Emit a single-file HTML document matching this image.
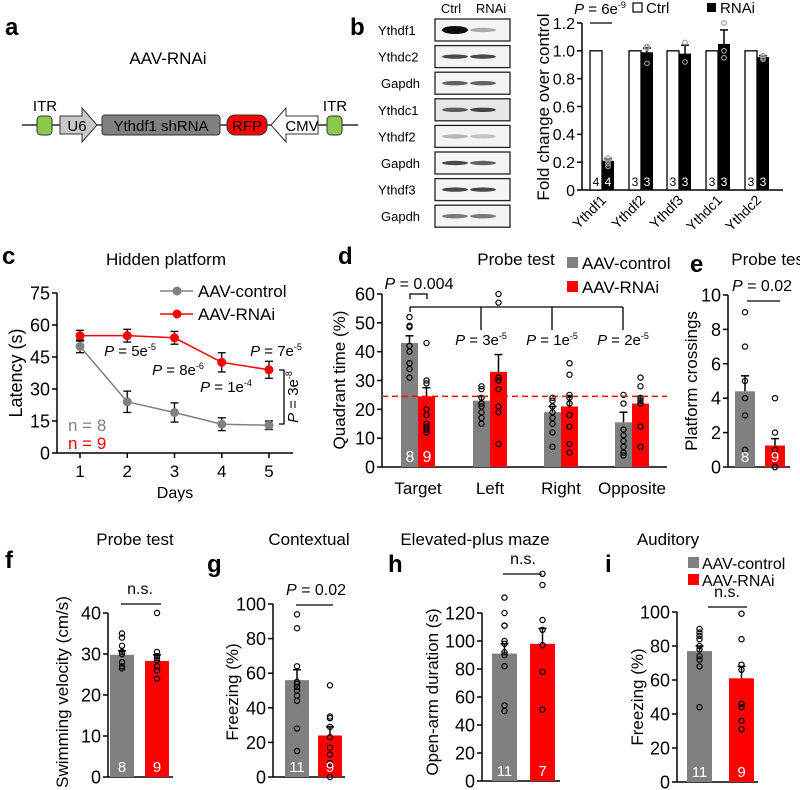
<!DOCTYPE html>
<html><head><meta charset="utf-8"><style>
html,body{margin:0;padding:0;background:#fff}
svg{display:block;font-family:"Liberation Sans",Arial,sans-serif}
</style></head><body>
<svg id="fig" width="800" height="790" viewBox="0 0 800 790" xmlns="http://www.w3.org/2000/svg"></svg>
<script>
// ---------- data ----------
const bGenes=["Ythdf1","Ythdf2","Ythdf3","Ythdc1","Ythdc2"];
const bCtrl=[1,1,1,1,1];
const bRnai=[0.21,0.99,0.98,1.05,0.955];
const bErr=[0.015,0.03,0.06,0.1,0.01];
const bPts=[[0.23,0.21,0.19,0.17],[1.03,1.02,0.91],[1.06,0.92],[1.2,1.0,0.95],[0.965,0.95,0.94]];
const bN=[[4,4],[3,3],[3,3],[3,3],[3,3]];
const bTicks=[0,0.2,0.4,0.6,0.8,1.0,1.2];

const cDays=[1,2,3,4,5];
const cCtrl=[50,24,19,13.5,13];
const cCtrlErr=[3,5,4.5,3,2];
const cRnai=[55,55,54,42.5,39];
const cRnaiErr=[2.5,3,3,4.5,4];
const cTicks=[0,15,30,45,60,75];

const dCats=["Target","Left","Right","Opposite"];
const dCtrl=[43,23,19,15.5];
const dCtrlErr=[2.5,1.5,2,3.5];
const dRnai=[24.5,33,21,22];
const dRnaiErr=[3,6,3.5,2.5];
const dCtrlPts=[[52,49,48.5,42,40,36,34,31],[28,27,24,22,21,19,17,15],[24,23,21,19,17,15,12,7],[25,22,13,11,9,7,5,4]];
const dRnaiPts=[[43,30,29,20,18,15,14,13,12],[60,57,31,30,27,21,19,8],[36,32,25,24,22,18,14,8,5],[31,28,24,23,22,14,7]];
const dTicks=[0,10,20,30,40,50,60];

const eMeans=[4.4,1.25];const eErrs=[0.9,0.4];
const ePts=[[9,7,5,4,3,1,1],[4,2,1,0,0]];const eN=[8,9];const eTicks=[0,2,4,6,8,10];
const fMeans=[29.8,28.3];const fErrs=[1,1.5];
const fPts=[[35,34,32,30.5,30,28,27,26.5],[40,30.5,29.5,29,28.5,27,26,24]];const fN=[8,9];const fTicks=[0,10,20,30,40];
const gMeans=[56,24];const gErrs=[6,5];
const gPts=[[94,86,64,55,54,52,50,47,44,28,15],[53,35,34,29,23,17,13,8,0]];const gN=[11,9];const gTicks=[0,20,40,60,80,100];
const hMeans=[91,98];const hErrs=[7,11];
const hPts=[[131,120,111,111,100,98,92,90,82,54,50],[148,140,115,108,97,78,51]];const hN=[11,7];const hTicks=[0,20,40,60,80,100,120];
const iMeans=[77,61];const iErrs=[3,7];
const iPts=[[90,88,86,84,80,78,74,72,68,44],[99,84,69,66,46,44,36,31]];const iN=[11,9];const iTicks=[0,20,40,60,80,100];

// ---------- helpers ----------
const NS='http://www.w3.org/2000/svg';
const svg=document.getElementById('fig');
const GRAY='#808080',RED='#ff0000';
function mk(tag,attrs,parent){const e=document.createElementNS(NS,tag);for(const k in attrs)e.setAttribute(k,attrs[k]);(parent||svg).appendChild(e);return e;}
function tx(x,y,s,size,anchor,fill,parent,extra){const e=mk('text',Object.assign({x:x,y:y,'font-size':size,'text-anchor':anchor||'start',fill:fill||'#000'},extra||{}),parent);e.textContent=s;return e;}
function lin(d0,d1,r0,r1){return v=>r0+(v-d0)*(r1-r0)/(d1-d0);}
function grp(name){const g=mk('g',{});return g;}
function line(x1,y1,x2,y2,p,w,c){return mk('line',{x1:x1,y1:y1,x2:x2,y2:y2,stroke:c||'#000','stroke-width':w||1.3},p);}
function ptxt(x,y,val,exp,size,p,anchor){const t=mk('text',{x:x,y:y,'font-size':size,'text-anchor':anchor||'middle'},p);
 const a=document.createElementNS(NS,'tspan');a.setAttribute('font-style','italic');a.textContent='P';t.appendChild(a);
 const b=document.createElementNS(NS,'tspan');b.textContent=' = '+val;t.appendChild(b);
 if(exp){const c=document.createElementNS(NS,'tspan');c.setAttribute('font-size',size*0.6);c.setAttribute('dy',-size*0.4);c.textContent=exp;t.appendChild(c);}
 return t;}
function yAxis(p,x,y,ticks,size,xEnd){const ax=grp('y-axis');p.appendChild(ax);
 line(x,y(ticks[ticks.length-1]),x,y(ticks[0]),ax,1.5);
 ticks.forEach(t=>{line(x-5,y(t),x,y(t),ax,1.5);const l=tx(x-7,y(t)+size*0.36,String(t),size,'end','#000',ax);});
 if(xEnd){const xa=line(x,y(ticks[0]),xEnd,y(ticks[0]),p,1.5);}
 return ax;
}
function yTitle(p,x,y,s,size){const t=tx(x,y,s,size,'middle','#000',p,{transform:'rotate(-90 '+x+' '+y+')'});return t;}
function bar(p,x,w,y,v,err,fill,stroke,name){const y0=y(0);const r=mk('rect',{x:x,y:y(v),width:w,height:y0-y(v),fill:fill,stroke:stroke||'none','stroke-width':1.3},p);
 
 
 if(err){const cx=x+w/2;line(cx,y(v),cx,y(v+err),p,1.5);line(cx-4,y(v+err),cx+4,y(v+err),p,1.5);}
 return r;}
function dots(p,cx,y,vals,col,r){vals.forEach((v,i)=>{const c=mk('circle',{cx:cx,cy:y(v),r:r||2.6,fill:'none',stroke:col||'#000','stroke-width':1.2},p);
 
 });}
function label(x,y,s){const t=tx(x,y,s,24,'start','#000',svg,{'font-weight':'bold'});}

// ---------- panel a ----------
(function(){const p=grp('panel-a-construct');svg.appendChild(p);
label(5,35,'a');
tx(168,64,'AAV-RNAi',17,'middle','#000',p);
line(22,125,358,125,p,1.3);
[[37,'itr-left'],[327,'itr-right']].forEach(a=>{const r=mk('rect',{x:a[0],y:116,width:15,height:19,rx:4,fill:'#8cc84b',stroke:'#333','stroke-width':1},p);});
tx(45,111,'ITR',15,'middle','#000',p);tx(335,111,'ITR',15,'middle','#000',p);
const u6=mk('polygon',{points:'60,116 82,116 82,108 97,125 82,142 82,134 60,134',fill:'#c8c8c8',stroke:'#333','stroke-width':1},p);
tx(77,131,'U6',15,'middle','#000',p);
const sh=mk('rect',{x:102,y:115,width:118,height:20,rx:3,fill:GRAY,stroke:'#333','stroke-width':1},p);
tx(161,131,'Ythdf1 shRNA',15,'middle','#000',p);
const rfp=mk('rect',{x:227,y:115,width:40,height:20,rx:8,fill:RED,stroke:'#333','stroke-width':1},p);
tx(247,131,'RFP',15,'middle','#000',p);
const cmv=mk('polygon',{points:'318,116 286,116 286,108 271,125 286,142 286,134 318,134',fill:'#fff',stroke:'#333','stroke-width':1},p);
tx(302,131,'CMV',15,'middle','#000',p);
})();

// ---------- panel b blots ----------
(function(){const p=grp('panel-b-western-blots');svg.appendChild(p);
label(350,35,'b');
tx(451,13,'Ctrl',13,'middle','#000',p);tx(491,13,'RNAi',13,'middle','#000',p);
const names=["Ythdf1","Ythdc2","Gapdh","Ythdc1","Ythdf2","Gapdh","Ythdf3","Gapdh"];
const ints=[[0.95,0.3],[0.7,0.7],[0.6,0.6],[0.6,0.7],[0.25,0.2],[0.7,0.6],[0.7,0.7],[0.5,0.5]];
names.forEach((n,i)=>{const cy=30+i*26.6;
 tx(n==='Gapdh'?381:378,cy+5,n,13,'start','#000',p);
 const r=mk('rect',{x:435,y:cy-11,width:75,height:22,fill:i===3?'#e6e6e6':'#f4f4f4',stroke:'#222','stroke-width':1.3},p);
 [455,483].forEach((x,j)=>{mk('ellipse',{cx:x,cy:cy,rx:13,ry:i===0&&j===0?4:2.2,fill:'#000','fill-opacity':ints[i][j]},p);});
});})();

// ---------- panel b chart ----------
(function(){const p=grp('panel-b-fold-change-chart');svg.appendChild(p);
const y=lin(0,1.2,190,23);
const ax=yAxis(p,582,y,bTicks,16,783);
ax.querySelectorAll('text').forEach((t,i)=>{t.textContent=bTicks[i]===0?'0':bTicks[i].toFixed(1);});
yTitle(p,549,107,'Fold change over control',17);
const centers=[602,641,679,718,757];
bGenes.forEach((g,i)=>{const c=centers[i];
 bar(p,c-12,12,y,bCtrl[i],0,'#fff','#000','bar-ctrl-'+g);
 bar(p,c,12,y,bRnai[i],bErr[i],'#000',null,'bar-rnai-'+g);
 dots(p,c+6,y,bPts[i],'#999',2.3);
 tx(c-6,186,String(bN[i][0]),12,'middle','#000',p);tx(c+6,186,String(bN[i][1]),12,'middle','#fff',p);
 const l=tx(c+5,201,g,14,'end','#000',p,{transform:'rotate(-45 '+(c+5)+' 201)'});
});
ptxt(600,14,'6e','-9',15,p);
line(590,23,612,23,p,1.3);
const lg=grp('legend-b');p.appendChild(lg);
mk('rect',{x:633,y:3,width:9,height:9,fill:'#fff',stroke:'#000','stroke-width':1.2},lg);tx(646,13,'Ctrl',15,'start','#000',lg);
mk('rect',{x:707,y:3,width:9,height:9,fill:'#000'},lg);tx(720,13,'RNAi',15,'start','#000',lg);
})();

// ---------- panel c ----------
(function(){const p=grp('panel-c-hidden-platform');svg.appendChild(p);
label(2,264,'c');
tx(166,265,'Hidden platform',17,'middle','#000',p);
const y=lin(0,75,453,293);const x=lin(1,5,80,269);
yAxis(p,57,y,cTicks,18,293);
cDays.forEach(d=>{line(x(d),453,x(d),458,p,1.5);const l=tx(x(d),477,String(d),17,'middle','#000',p);});
const xt=tx(175,498,'Days',16,'middle','#000',p);
yTitle(p,22,373,'Latency (s)',18);
function series(vals,errs,col,name){const g=grp(name);p.appendChild(g);
 mk('polyline',{points:cDays.map((d,i)=>x(d)+','+y(vals[i])).join(' '),fill:'none',stroke:col,'stroke-width':1.5},g);
 cDays.forEach((d,i)=>{line(x(d),y(vals[i]-errs[i]),x(d),y(vals[i]+errs[i]),g,1.3);
  line(x(d)-4,y(vals[i]-errs[i]),x(d)+4,y(vals[i]-errs[i]),g,1.3);line(x(d)-4,y(vals[i]+errs[i]),x(d)+4,y(vals[i]+errs[i]),g,1.3);
  const c=mk('circle',{cx:x(d),cy:y(vals[i]),r:4.5,fill:col},g);
  
  });}
series(cCtrl,cCtrlErr,GRAY,'series-control');series(cRnai,cRnaiErr,RED,'series-rnai');
const lg=grp('legend-c');p.appendChild(lg);
line(160,291,193,291,lg,1.5,GRAY);mk('circle',{cx:177,cy:291,r:4.5,fill:GRAY},lg);tx(198,297,'AAV-control',17,'start','#000',lg);
line(160,314,193,314,lg,1.5,RED);mk('circle',{cx:177,cy:314,r:4.5,fill:RED},lg);tx(198,320,'AAV-RNAi',17,'start','#000',lg);
ptxt(130,356,'5e','-5',15,p);ptxt(178,375,'8e','-6',15,p);ptxt(226,392,'1e','-4',15,p);ptxt(276,356,'7e','-5',15,p);
mk('polyline',{points:'279,370 284,370 284,424 279,424',fill:'none',stroke:'#000','stroke-width':1.3},p);
const r=ptxt(0,0,'3e','-8',15,p,'middle');r.setAttribute('transform','translate(298,397) rotate(-90)');
tx(68,431,'n = 8',17,'start',GRAY,p);tx(68,449,'n = 9',17,'start',RED,p);
})();

// ---------- panel d ----------
(function(){const p=grp('panel-d-quadrant');svg.appendChild(p);
label(338,264,'d');
tx(516,265,'Probe test',17,'middle','#000',p);
const y=lin(0,60,467,294);
yAxis(p,382,y,dTicks,18,667);
yTitle(p,345,380,'Quadrant time (%)',17);
const centers=[418,490,561,632];
dCats.forEach((c,i)=>{const cx=centers[i];
 bar(p,cx-17,17,y,dCtrl[i],dCtrlErr[i],GRAY,null,'bar-control-'+c.toLowerCase());
 bar(p,cx,17,y,dRnai[i],dRnaiErr[i],RED,null,'bar-rnai-'+c.toLowerCase());
 dots(p,cx-8.5,y,dCtrlPts[i]);dots(p,cx+8.5,y,dRnaiPts[i]);
 const l=tx(cx,494,c,17,'middle','#000',p);});
tx(410,462,'8',16,'middle','#fff',p);tx(427,462,'9',16,'middle','#fff',p);
const dl=mk('line',{x1:382,y1:y(24.5),x2:667,y2:y(24.5),stroke:RED,'stroke-width':1.5,'stroke-dasharray':'6,4'},p);
ptxt(419,289,'0.004','',16,p);
mk('polyline',{points:'410,299 410,294 427,294 427,299',fill:'none',stroke:'#000','stroke-width':1.3},p);
line(410,307,623,307,p,1.3);
[410,481,552,623].forEach((xx,i)=>line(xx,307,xx,i===0?312:330,p,1.3));
ptxt(481,345,'3e','-5',15,p);ptxt(552,345,'1e','-5',15,p);ptxt(623,345,'2e','-5',15,p);
const lg=grp('legend-d');p.appendChild(lg);
mk('rect',{x:567,y:257,width:11,height:11,fill:GRAY},lg);tx(582,269,'AAV-control',17,'start','#000',lg);
mk('rect',{x:567,y:281,width:11,height:11,fill:RED},lg);tx(582,293,'AAV-RNAi',17,'start','#000',lg);
})();

// ---------- simple two-bar panels ----------
function twoBar(cfg){const p=grp(cfg.name);svg.appendChild(p);
 label(cfg.lx,cfg.ly,cfg.letter);
 tx(cfg.tx,cfg.ty,cfg.title,17,'middle','#000',p);
 const y=lin(0,cfg.ticks[cfg.ticks.length-1],cfg.y0,cfg.yTop);
 yAxis(p,cfg.ax,y,cfg.ticks,cfg.fs,cfg.axEnd);
 yTitle(p,cfg.ytx,cfg.yty,cfg.ytitle,17);
 const cols=[GRAY,RED];const nm=['control','rnai'];
 cfg.means.forEach((m,i)=>{const bx=cfg.bx[i];
  bar(p,bx,cfg.bw,y,m,cfg.errs[i],cols[i],null,'bar-'+nm[i]);
  dots(p,bx+cfg.bw/2,y,cfg.pts[i]);
  tx(bx+cfg.bw/2,cfg.y0-5,String(cfg.ns[i]),15,'middle','#fff',p);});
 if(cfg.sigP)ptxt(cfg.sx,cfg.sy,cfg.sigP,'',16,p);else tx(cfg.sx,cfg.sy,'n.s.',16,'middle','#000',p);
 line(cfg.l1,cfg.sy+10,cfg.l2,cfg.sy+10,p,1.3);
 return p;}
twoBar({name:'panel-e-platform-crossings',letter:'e',lx:690,ly:272,title:'Probe test',tx:770,ty:265,ticks:eTicks,y0:467,yTop:295,ax:728,axEnd:790,fs:18,ytx:697,yty:381,ytitle:'Platform crossings',means:eMeans,errs:eErrs,pts:ePts,ns:eN,bx:[735,765],bw:20,sigP:'0.02',sx:762,sy:291,l1:747,l2:780});
twoBar({name:'panel-f-swimming-velocity',letter:'f',lx:5,ly:568,title:'Probe test',tx:135,ty:545,ticks:fTicks,y0:777,yTop:613,ax:108,axEnd:173,fs:18,ytx:68,yty:692,ytitle:'Swimming velocity (cm/s)',means:fMeans,errs:fErrs,pts:fPts,ns:fN,bx:[110,145],bw:24,sigP:null,sx:140,sy:594,l1:121,l2:161});
twoBar({name:'panel-g-contextual',letter:'g',lx:207,ly:572,title:'Contextual',tx:309,ty:545,ticks:gTicks,y0:777,yTop:604,ax:273,axEnd:345,fs:18,ytx:238,yty:692,ytitle:'Freezing (%)',means:gMeans,errs:gErrs,pts:gPts,ns:gN,bx:[285,318],bw:24,sigP:'0.02',sx:316,sy:595,l1:296,l2:333});
twoBar({name:'panel-h-elevated-plus-maze',letter:'h',lx:388,ly:572,title:'Elevated-plus maze',tx:475,ty:545,ticks:hTicks,y0:781,yTop:613,ax:482,axEnd:560,fs:18,ytx:438,yty:692,ytitle:'Open-arm duration (s)',means:hMeans,errs:hErrs,pts:hPts,ns:hN,bx:[492,530],bw:25,sigP:null,sx:523,sy:564,l1:503,l2:542});
twoBar({name:'panel-i-auditory',letter:'i',lx:605,ly:572,title:'Auditory',tx:668,ty:545,ticks:iTicks,y0:782,yTop:612,ax:677,axEnd:758,fs:18,ytx:643,yty:697,ytitle:'Freezing (%)',means:iMeans,errs:iErrs,pts:iPts,ns:iN,bx:[687,729],bw:25,sigP:null,sx:727,sy:597,l1:708,l2:747});
(function(){const lg=grp('legend-i');svg.appendChild(lg);
mk('rect',{x:688,y:557,width:11,height:11,fill:GRAY},lg);tx(702,569,'AAV-control',16,'start','#000',lg);
mk('rect',{x:688,y:574,width:11,height:11,fill:RED},lg);tx(702,586,'AAV-RNAi',16,'start','#000',lg);})();
</script>
</body></html>
